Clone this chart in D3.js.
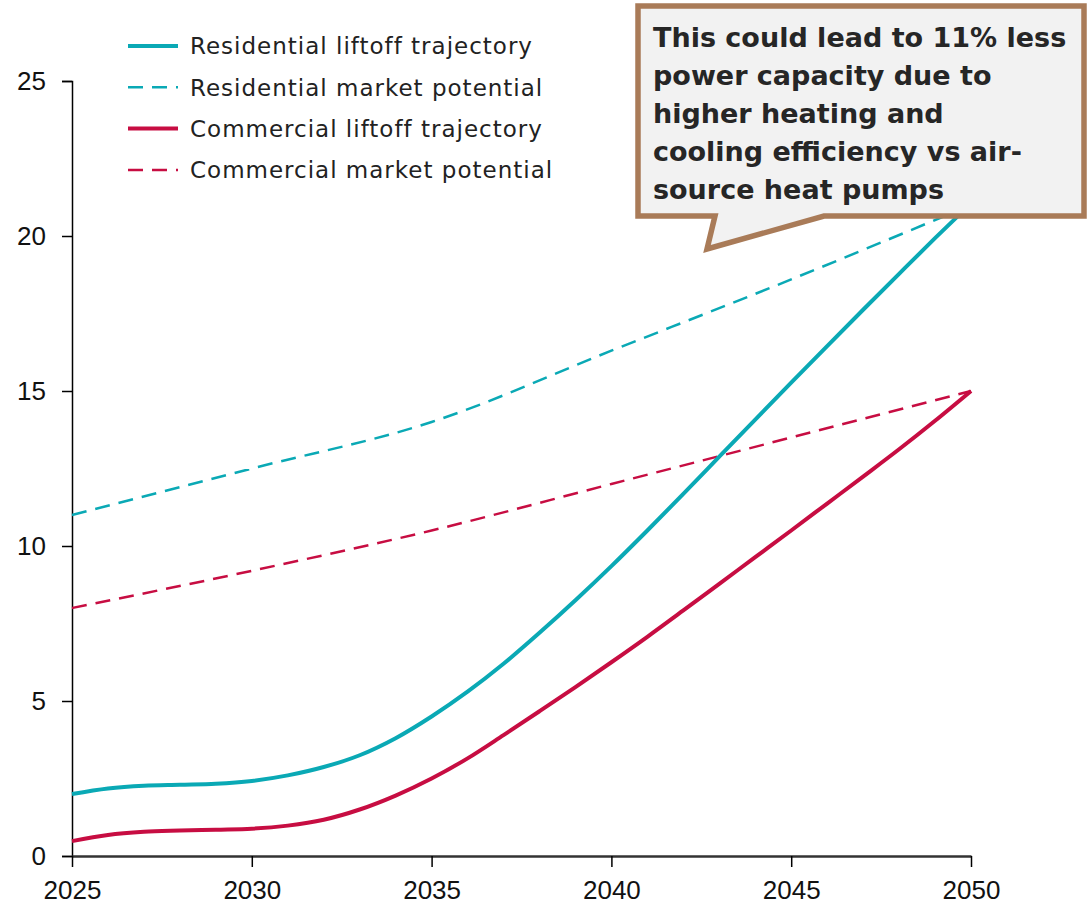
<!DOCTYPE html>
<html><head><meta charset="utf-8">
<script src="https://cdn.jsdelivr.net/npm/d3@7"></script>
<style>html,body{margin:0;padding:0;background:#fff;}svg{display:block;}</style>
</head><body>
<svg id="c" width="1087" height="911"></svg>
<script>
const years = [2025,2026,2027,2028,2029,2030,2031,2032,2033,2034,2035,2036,2037,2038,2039,2040,2041,2042,2043,2044,2045,2046,2047,2048,2049,2050];
const resLiftoff = [2.0,2.18,2.27,2.3,2.33,2.42,2.6,2.87,3.25,3.8,4.5,5.3,6.2,7.2,8.25,9.35,10.5,11.68,12.88,14.08,15.27,16.45,17.62,18.78,19.93,21.05];
const comLiftoff = [0.48,0.68,0.78,0.82,0.85,0.88,0.98,1.17,1.5,1.95,2.5,3.15,3.9,4.67,5.45,6.25,7.07,7.92,8.78,9.64,10.5,11.37,12.24,13.12,14.04,15.0];
const potYears = [2025,2030,2035,2040,2045,2050];
const resPotential = [11.0,12.5,14.0,16.3,18.6,21.0];
const comPotential = [8.0,9.2,10.5,12.0,13.5,15.0];
const xTicks = [2025,2030,2035,2040,2045,2050];
const yTicks = [0,5,10,15,20,25];
const legendLabels = ["Residential liftoff trajectory","Residential market potential","Commercial liftoff trajectory","Commercial market potential"];
const calloutLines = ["This could lead to 11% less","power capacity due to","higher heating and","cooling efficiency vs air-","source heat pumps"];

const TEAL = "#0aa9b5", RED = "#c70d42";
const svg = d3.select("#c");
const x = d3.scaleLinear().domain([2025,2050]).range([72,971]);
const y = d3.scaleLinear().domain([0,25]).range([856,81]);

// axes
const yAx = svg.append("g").attr("transform","translate(72,0)")
  .call(d3.axisLeft(y).tickValues(yTicks).tickSize(10).tickPadding(16));
yAx.select(".domain").attr("stroke","#000").attr("stroke-width",1.5);
yAx.selectAll(".tick line").attr("stroke","#000").attr("stroke-width",1.5);
yAx.selectAll("text").attr("font-family","Liberation Sans, Arial, sans-serif").attr("font-size",26).attr("fill","#111");

const xAx = svg.append("g").attr("transform","translate(0,856)")
  .call(d3.axisBottom(x).tickValues(xTicks).tickFormat(d3.format("d")).tickSize(11).tickPadding(14).tickSizeOuter(0));
xAx.select(".domain").attr("stroke","#333").attr("stroke-width",2.5);
xAx.selectAll(".tick line").attr("stroke","#000").attr("stroke-width",1.5);
xAx.selectAll("text").attr("font-family","Liberation Sans, Arial, sans-serif").attr("font-size",26).attr("fill","#111");

// lines
const smooth = d3.line().x(d=>x(d[0])).y(d=>y(d[1])).curve(d3.curveMonotoneX);
svg.append("path").attr("d",smooth(potYears.map((t,i)=>[t,resPotential[i]])))
  .attr("fill","none").attr("stroke",TEAL).attr("stroke-width",2.5).attr("stroke-dasharray","15,9");
svg.append("path").attr("d",smooth(potYears.map((t,i)=>[t,comPotential[i]])))
  .attr("fill","none").attr("stroke",RED).attr("stroke-width",2.5).attr("stroke-dasharray","15,9");
svg.append("path").attr("d",smooth(years.map((t,i)=>[t,resLiftoff[i]])))
  .attr("fill","none").attr("stroke",TEAL).attr("stroke-width",4);
svg.append("path").attr("d",smooth(years.map((t,i)=>[t,comLiftoff[i]])))
  .attr("fill","none").attr("stroke",RED).attr("stroke-width",4);

// legend
const lg = svg.append("g");
const lcol = [TEAL,TEAL,RED,RED], ldash=[null,"15,9",null,"15,9"], lw=[4,2.5,4,2.5];
legendLabels.forEach((t,i)=>{
  const yy = 46 + i*41.3;
  lg.append("line").attr("x1",128).attr("x2",178).attr("y1",yy).attr("y2",yy)
    .attr("stroke",lcol[i]).attr("stroke-width",lw[i]).attr("stroke-dasharray",ldash[i]);
  lg.append("text").attr("x",190).attr("y",yy).attr("dy","0.36em")
    .attr("font-family","'DejaVu Sans', sans-serif").attr("font-size",23).attr("letter-spacing",1.0)
    .attr("fill","#222").text(t);
});

// callout
const co = svg.append("g");
co.append("path")
  .attr("d","M638,6 L1084,6 L1084,216 L824,216 L707,249 L715,216 L638,216 Z")
  .attr("fill","#f2f2f2").attr("stroke","#a97b58").attr("stroke-width",5.5).attr("stroke-linejoin","miter");
calloutLines.forEach((t,i)=>{
  co.append("text").attr("x",653).attr("y",47+i*38.1)
    .attr("font-family","'DejaVu Sans', sans-serif").attr("font-weight","bold").attr("font-size",27)
    .attr("fill","#262626").text(t);
});
</script>
</body></html>
